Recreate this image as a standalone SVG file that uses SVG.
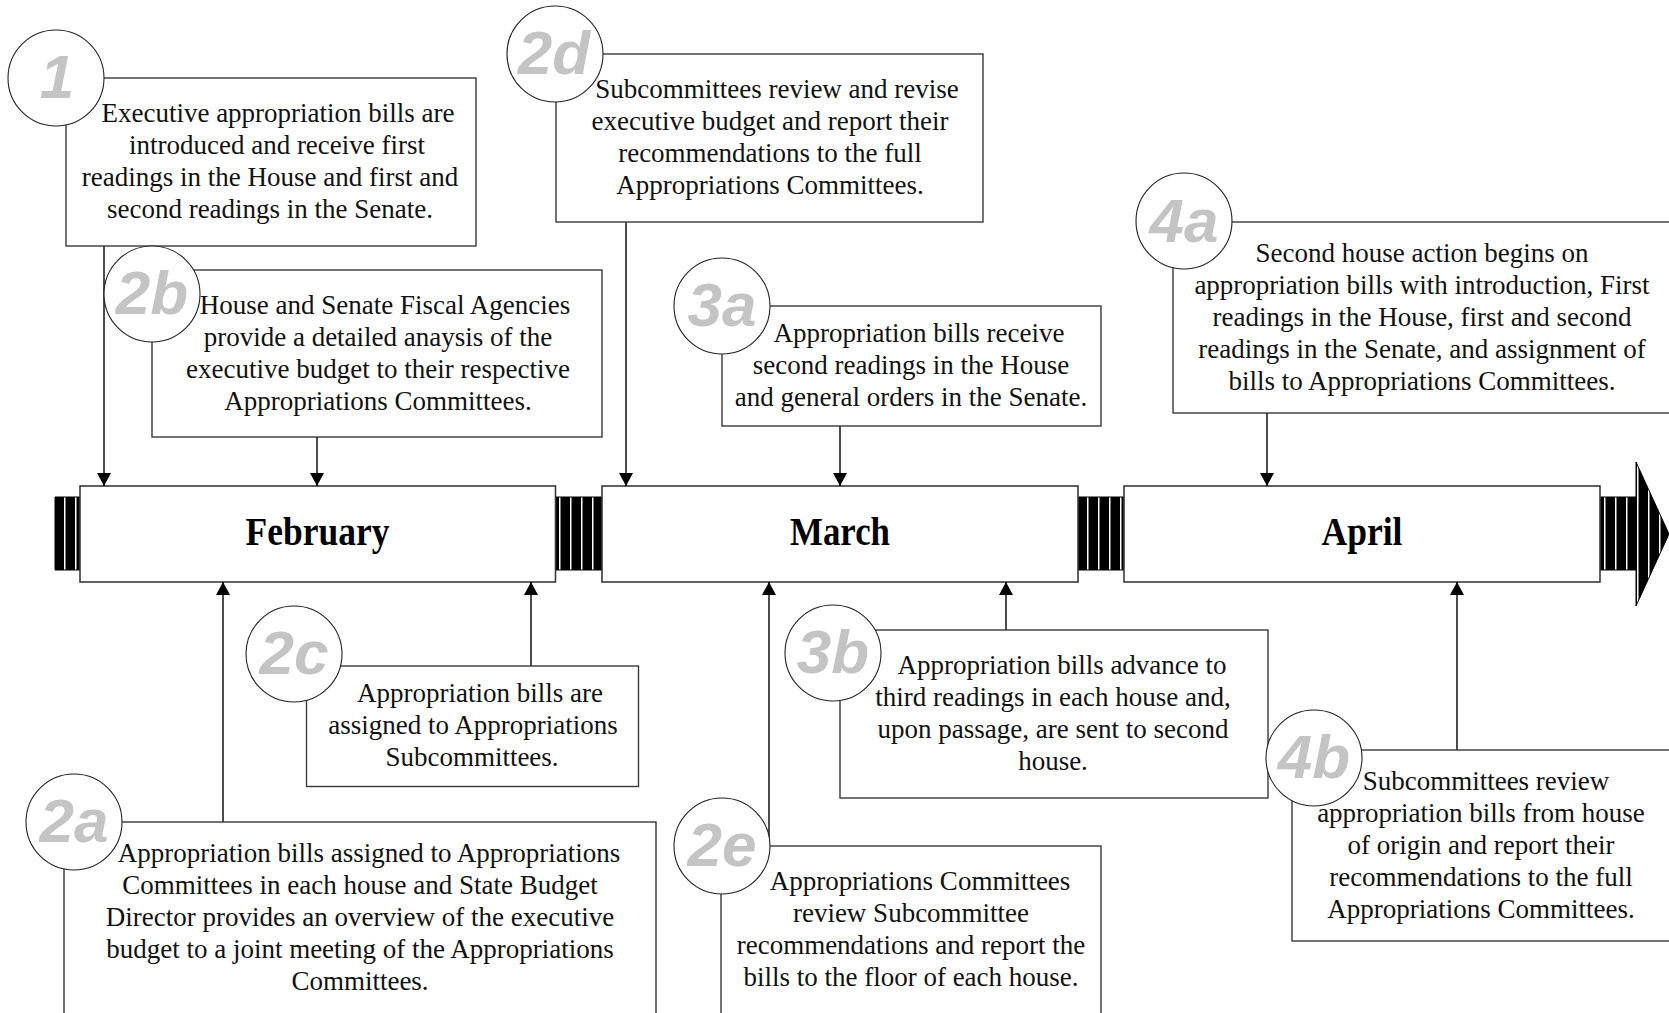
<svg xmlns="http://www.w3.org/2000/svg" width="1669" height="1013" viewBox="0 0 1669 1013">
<style>
.box{fill:#fff;stroke:#3a3a3a;stroke-width:1.4}
.month{fill:#fff;stroke:#3a3a3a;stroke-width:1.6}
.circ{fill:#fff;stroke:#222;stroke-width:1.1}
.lbl{font-family:"Liberation Sans",Arial,sans-serif;font-weight:bold;font-style:italic;font-size:62px;fill:#c4c4c4;text-anchor:middle}
.t{font-family:"Liberation Serif","Times New Roman",serif;font-size:27px;fill:#111;text-anchor:middle}
.m{font-family:"Liberation Serif","Times New Roman",serif;font-size:39px;font-weight:bold;fill:#000;text-anchor:middle}
.con{fill:none;stroke:#000;stroke-width:1.4}
</style>
<defs>
<pattern id="stripes" patternUnits="userSpaceOnUse" x="59" y="0" width="11" height="20">
<rect x="0" y="0" width="11" height="20" fill="#000"/>
<rect x="5" y="0" width="1.5" height="20" fill="#fff"/>
</pattern>
<marker id="ah" viewBox="0 0 13 14" refX="13" refY="7" markerWidth="13" markerHeight="14" markerUnits="userSpaceOnUse" orient="auto">
<path d="M0,0 L13,7 L0,14 z" fill="#000"/>
</marker>
</defs>
<rect width="1669" height="1013" fill="#fff"/>
<g id="timeline">
<polygon points="55,497 1636,497 1636,462 1669,534 1636,606 1636,570 55,570" fill="url(#stripes)" stroke="#000" stroke-width="1"/>
</g>
<g id="february">
<rect class="month" x="80" y="486" width="475.5" height="96"/>
<text class="m" x="317.5" y="545" textLength="144" lengthAdjust="spacingAndGlyphs">February</text>
</g>
<g id="march">
<rect class="month" x="602" y="486" width="476" height="96"/>
<text class="m" x="840" y="545" textLength="100" lengthAdjust="spacingAndGlyphs">March</text>
</g>
<g id="april">
<rect class="month" x="1124" y="486" width="476" height="96"/>
<text class="m" x="1362" y="545" textLength="81" lengthAdjust="spacingAndGlyphs">April</text>
</g>
<g id="connectors">
<line class="con" x1="104" y1="246" x2="104" y2="486" marker-end="url(#ah)"/>
<line class="con" x1="317" y1="437" x2="317" y2="486" marker-end="url(#ah)"/>
<line class="con" x1="626" y1="222" x2="626" y2="486" marker-end="url(#ah)"/>
<line class="con" x1="840" y1="426" x2="840" y2="486" marker-end="url(#ah)"/>
<line class="con" x1="1267" y1="413" x2="1267" y2="486" marker-end="url(#ah)"/>
<line class="con" x1="223" y1="822" x2="223" y2="582" marker-end="url(#ah)"/>
<line class="con" x1="531" y1="666" x2="531" y2="582" marker-end="url(#ah)"/>
<line class="con" x1="769" y1="846" x2="769" y2="582" marker-end="url(#ah)"/>
<line class="con" x1="1006" y1="630" x2="1006" y2="582" marker-end="url(#ah)"/>
<line class="con" x1="1457" y1="750" x2="1457" y2="582" marker-end="url(#ah)"/>
</g>
<g id="step1">
<rect class="box" x="66" y="78" width="410" height="168"/>
<circle class="circ" cx="56" cy="78" r="48"/>
<text class="lbl" x="57" y="98">1</text>
<text class="t" x="278" y="122">Executive appropriation bills are</text>
<text class="t" x="277" y="154">introduced and receive first</text>
<text class="t" x="270" y="186">readings in the House and first and</text>
<text class="t" x="270" y="218">second readings in the Senate.</text>
</g>
<g id="step2b">
<rect class="box" x="152" y="270" width="450" height="167"/>
<circle class="circ" cx="152" cy="294" r="48"/>
<text class="lbl" x="152" y="314">2b</text>
<text class="t" x="385" y="314">House and Senate Fiscal Agencies</text>
<text class="t" x="378" y="346">provide a detailed anaysis of the</text>
<text class="t" x="378" y="378">executive budget to their respective</text>
<text class="t" x="378" y="410">Appropriations Committees.</text>
</g>
<g id="step2d">
<rect class="box" x="556" y="54" width="427" height="168"/>
<circle class="circ" cx="555" cy="54" r="48"/>
<text class="lbl" x="554" y="74">2d</text>
<text class="t" x="777" y="98">Subcommittees review and revise</text>
<text class="t" x="770" y="130">executive budget and report their</text>
<text class="t" x="770" y="162">recommendations to the full</text>
<text class="t" x="770" y="194">Appropriations Committees.</text>
</g>
<g id="step3a">
<rect class="box" x="722" y="306" width="379" height="120"/>
<circle class="circ" cx="722" cy="306" r="48"/>
<text class="lbl" x="722" y="326">3a</text>
<text class="t" x="919" y="342">Appropriation bills receive</text>
<text class="t" x="911" y="374">second readings in the House</text>
<text class="t" x="911" y="406">and general orders in the Senate.</text>
</g>
<g id="step4a">
<rect class="box" x="1173" y="222" width="510" height="191"/>
<circle class="circ" cx="1184" cy="221" r="48"/>
<text class="lbl" x="1184" y="242">4a</text>
<text class="t" x="1422" y="262">Second house action begins on</text>
<text class="t" x="1422" y="294">appropriation bills with introduction, First</text>
<text class="t" x="1422" y="326">readings in the House, first and second</text>
<text class="t" x="1422" y="358">readings in the Senate, and assignment of</text>
<text class="t" x="1422" y="390">bills to Appropriations Committees.</text>
</g>
<g id="step2c">
<rect class="box" x="306.5" y="666" width="332" height="120.5"/>
<circle class="circ" cx="294" cy="654" r="48"/>
<text class="lbl" x="294" y="674">2c</text>
<text class="t" x="480" y="702">Appropriation bills are</text>
<text class="t" x="473" y="734">assigned to Appropriations</text>
<text class="t" x="472" y="766">Subcommittees.</text>
</g>
<g id="step3b">
<rect class="box" x="840" y="630" width="428" height="168"/>
<circle class="circ" cx="833" cy="653" r="48"/>
<text class="lbl" x="833" y="673">3b</text>
<text class="t" x="1062" y="674">Appropriation bills advance to</text>
<text class="t" x="1053" y="706">third readings in each house and,</text>
<text class="t" x="1053" y="738">upon passage, are sent to second</text>
<text class="t" x="1053" y="770">house.</text>
</g>
<g id="step4b">
<rect class="box" x="1292" y="750" width="390" height="191"/>
<circle class="circ" cx="1314" cy="758" r="48"/>
<text class="lbl" x="1314" y="778">4b</text>
<text class="t" x="1486" y="790">Subcommittees review</text>
<text class="t" x="1481" y="822">appropriation bills from house</text>
<text class="t" x="1481" y="854">of origin and report their</text>
<text class="t" x="1481" y="886">recommendations to the full</text>
<text class="t" x="1481" y="918">Appropriations Committees.</text>
</g>
<g id="step2a">
<rect class="box" x="64" y="822" width="592" height="210"/>
<circle class="circ" cx="74" cy="822" r="48"/>
<text class="lbl" x="74" y="842">2a</text>
<text class="t" x="369" y="862">Appropriation bills assigned to Appropriations</text>
<text class="t" x="360" y="894">Committees in each house and State Budget</text>
<text class="t" x="360" y="926">Director provides an overview of the executive</text>
<text class="t" x="360" y="958">budget to a joint meeting of the Appropriations</text>
<text class="t" x="360" y="990">Committees.</text>
</g>
<g id="step2e">
<rect class="box" x="721" y="846" width="380" height="190"/>
<circle class="circ" cx="722" cy="846" r="48"/>
<text class="lbl" x="722" y="866">2e</text>
<text class="t" x="920" y="890">Appropriations Committees</text>
<text class="t" x="911" y="922">review Subcommittee</text>
<text class="t" x="911" y="954">recommendations and report the</text>
<text class="t" x="911" y="986">bills to the floor of each house.</text>
</g>
</svg>
